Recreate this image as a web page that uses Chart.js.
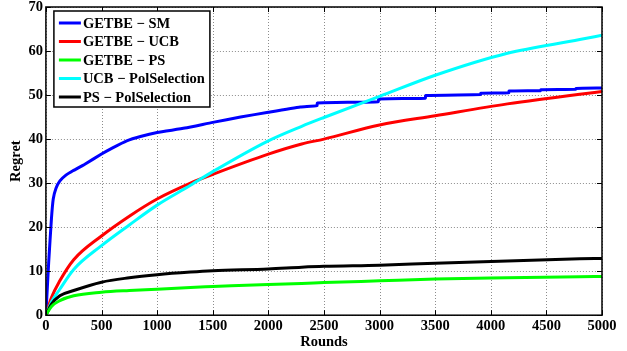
<!DOCTYPE html>
<html>
<head>
<meta charset="utf-8">
<script src="https://cdn.jsdelivr.net/npm/chart.js@4/dist/chart.umd.min.js"></script>
<style>
  html, body { margin: 0; padding: 0; background: #fff; }
  #wrap { width: 627px; height: 351px; }
</style>
</head>
<body>
<div id="wrap"><canvas id="myChart" width="627" height="351"></canvas></div>
<script>
'use strict';
// values (rounds -> regret)
// GETBE - SM is step-like, so it gets its own rounds
var smRounds = [0, 25, 50, 66, 90, 126, 180, 243, 350, 500, 600, 727, 850, 1000, 1250, 1500, 1750, 2000, 2288, 2438, 2440, 2989, 2991, 3412, 3414, 3908, 3910, 4162, 4164, 4448, 4450, 4764, 4766, 5000];
var smVals = [0, 12, 22, 26.4, 28.8, 30.5, 31.8, 32.8, 34.3, 36.6, 38, 39.6, 40.6, 41.5, 42.5, 43.8, 45, 46.1, 47.3, 47.6, 48.2, 48.5, 49.1, 49.3, 49.9, 50.1, 50.4, 50.5, 50.9, 51, 51.2, 51.3, 51.5, 51.6];

var rounds = [0, 50, 125, 250, 500, 750, 1000, 1300, 1500, 2000, 2300, 2500, 3000, 3500, 4150, 4800, 5000];
var ucbVals = [0, 4, 7.8, 12.6, 18, 22.5, 26.4, 30, 32, 36.6, 38.9, 40, 43.2, 45.3, 48, 50.2, 50.8];
var psVals = [0, 2, 3.3, 4.4, 5.2, 5.6, 5.9, 6.3, 6.5, 7, 7.2, 7.4, 7.8, 8.2, 8.5, 8.75, 8.8];
var polUcbVals = [0, 3, 5.9, 10.4, 15.8, 20.5, 25, 29.5, 32.6, 39.6, 42.9, 44.9, 49.7, 54.5, 59.5, 62.6, 63.6];
var polPsVals = [0, 2.5, 4.4, 5.6, 7.5, 8.5, 9.2, 9.8, 10.1, 10.5, 10.9, 11.1, 11.35, 11.8, 12.3, 12.8, 12.9];

var seriesNames = ['GETBE \u2212 SM', 'GETBE \u2212 UCB', 'GETBE \u2212 PS', 'UCB \u2212 PolSelection', 'PS \u2212 PolSelection'];
var seriesColors = ['#0000ff', '#ff0000', '#00ff00', '#00ffff', '#000000'];
var yTicks = [0, 10, 20, 30, 40, 50, 60, 70];
var xTicks = [0, 500, 1000, 1500, 2000, 2500, 3000, 3500, 4000, 4500, 5000];

var FONT = '"Liberation Serif", "Times New Roman", serif';

function toPoints(xs, ys) {
  let res = [];
  for (let i = 0; i < xs.length; i++) {
    res.push({x: xs[i], y: ys[i]});
  }
  return res;
}

var allData = [
  toPoints(smRounds, smVals),
  toPoints(rounds, ucbVals),
  toPoints(rounds, psVals),
  toPoints(rounds, polUcbVals),
  toPoints(rounds, polPsVals)
];

var datasets = [];
// draw order: green first, black, cyan, red, blue on top
[2, 4, 3, 1, 0].forEach(i => {
  datasets.push({
    label: seriesNames[i],
    data: allData[i],
    borderColor: seriesColors[i],
    backgroundColor: seriesColors[i],
    borderWidth: 3,
    pointRadius: 0,
    // the step series looks better with straight-ish segments
    cubicInterpolationMode: i === 0 ? 'default' : 'monotone',
    tension: i === 0 ? 0.15 : 0,
    fill: false
  });
});

// dotted grid under the lines
var gridPlugin = {
  id: 'gridPlugin',
  beforeDatasetsDraw(chart) {
    let ctx = chart.ctx;
    let a = chart.chartArea;
    let xs = chart.scales.x, ys = chart.scales.y;
    ctx.save();
    ctx.strokeStyle = '#8c8c8c';
    ctx.lineWidth = 1;
    ctx.setLineDash([1, 2]);
    xTicks.forEach(t => {
      let px = Math.round(xs.getPixelForValue(t)) + 0.5;
      ctx.beginPath();
      ctx.moveTo(px, a.top); ctx.lineTo(px, a.bottom);
      ctx.stroke();
    });
    yTicks.forEach(t => {
      let py = Math.round(ys.getPixelForValue(t)) + 0.5;
      ctx.beginPath();
      ctx.moveTo(a.left, py); ctx.lineTo(a.right, py);
      ctx.stroke();
    });
    ctx.restore();
  }
};

// box around the plot + small inward ticks + legend inside
var boxPlugin = {
  id: 'boxPlugin',
  afterDatasetsDraw(chart) {
    let ctx = chart.ctx;
    let a = chart.chartArea;
    let xs = chart.scales.x, ys = chart.scales.y;
    ctx.save();
    ctx.strokeStyle = '#000';
    ctx.lineWidth = 1.5;
    ctx.strokeRect(a.left, a.top, a.right - a.left, a.bottom - a.top);
    ctx.lineWidth = 1;
    xTicks.forEach(t => {
      let px = Math.round(xs.getPixelForValue(t)) + 0.5;
      ctx.beginPath();
      ctx.moveTo(px, a.bottom); ctx.lineTo(px, a.bottom - 5);
      ctx.moveTo(px, a.top); ctx.lineTo(px, a.top + 5);
      ctx.stroke();
    });
    yTicks.forEach(t => {
      let py = Math.round(ys.getPixelForValue(t)) + 0.5;
      ctx.beginPath();
      ctx.moveTo(a.left, py); ctx.lineTo(a.left + 5, py);
      ctx.moveTo(a.right, py); ctx.lineTo(a.right - 5, py);
      ctx.stroke();
    });

    // legend
    let lx = a.left + 8, ly = a.top + 4, lw = 156, lh = 96;
    ctx.fillStyle = '#fff';
    ctx.fillRect(lx, ly, lw, lh);
    ctx.lineWidth = 1.5;
    ctx.strokeRect(lx, ly, lw, lh);
    ctx.font = 'bold 14.5px ' + FONT;
    ctx.textBaseline = 'middle';
    for (let i = 0; i < seriesNames.length; i++) {
      let yy = ly + 12 + i * 18.5;
      ctx.strokeStyle = seriesColors[i];
      ctx.lineWidth = 3;
      ctx.beginPath();
      ctx.moveTo(lx + 5, yy); ctx.lineTo(lx + 27, yy);
      ctx.stroke();
      ctx.fillStyle = '#000';
      ctx.fillText(seriesNames[i], lx + 29, yy + 1);
    }
    ctx.restore();
  }
};

new Chart(document.getElementById('myChart').getContext('2d'), {
  type: 'line',
  data: { datasets: datasets },
  options: {
    responsive: false,
    animation: false,
    layout: { padding: { top: 7, right: 25, left: 4, bottom: 0 } },
    plugins: { legend: { display: false }, tooltip: { enabled: false } },
    scales: {
      x: {
        type: 'linear',
        min: 0, max: 5000,
        afterBuildTicks: axis => { axis.ticks = xTicks.map(v => ({value: v})); },
        afterFit: axis => { axis.paddingRight = 0; axis.paddingLeft = 0; },
        grid: { display: false, drawTicks: false },
        border: { display: false },
        ticks: { color: '#000', font: { family: FONT, size: 14.5, weight: 'bold' }, padding: 2, maxRotation: 0, callback: v => String(v) },
        title: { display: true, text: 'Rounds', color: '#000', font: { family: FONT, size: 14.5, weight: 'bold' }, padding: { top: -3, bottom: 0 } }
      },
      y: {
        min: 0, max: 70,
        afterBuildTicks: axis => { axis.ticks = yTicks.map(v => ({value: v})); },
        afterFit: axis => { axis.paddingTop = 0; axis.paddingBottom = 0; },
        grid: { display: false, drawTicks: false },
        border: { display: false },
        ticks: { color: '#000', font: { family: FONT, size: 14.5, weight: 'bold' }, padding: 3, callback: v => String(v) },
        title: { display: true, text: 'Regret', color: '#000', font: { family: FONT, size: 14.5, weight: 'bold' }, padding: { top: 4, bottom: 0 } }
      }
    }
  },
  plugins: [gridPlugin, boxPlugin]
});
</script>
</body>
</html>
